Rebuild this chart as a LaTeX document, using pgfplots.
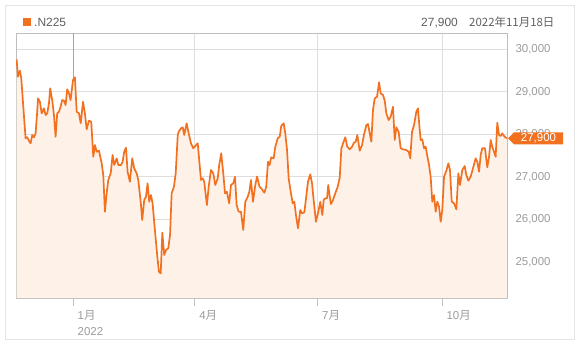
\documentclass[border=0pt]{standalone}
\usepackage{pgfplots}
\pgfplotsset{compat=1.18}
\usepackage{pgfplotstable}
\usepackage{fontspec}
\setmainfont{Liberation Sans}
\newfontfamily\cjk{Noto Sans CJK JP}
\definecolor{nk}{RGB}{242,113,33}
\definecolor{nkfill}{RGB}{253,241,232}
\definecolor{gridc}{RGB}{222,222,222}
\definecolor{lab}{RGB}{155,155,155}
\definecolor{frame}{RGB}{228,228,228}
\definecolor{hdr}{RGB}{95,95,95}

\pgfplotstableread{
d v
-41.8 29760
-40.9 29355
-39.4 29496
-38.4 29318
-36.9 28649
-35.2 27906
-34.0 27930
-32.7 27849
-31.5 27788
-30.3 27983
-29.0 27930
-27.8 28023
-26.6 28532
-26.0 28847
-24.6 28767
-23.3 28494
-21.6 28612
-20.4 28454
-19.2 28494
-17.9 28729
-17.0 29082
-15.5 28807
-14.2 28454
-13.0 27943
-11.8 28494
-10.5 28532
-9.3 28649
-8.1 28807
-6.8 28791
-5.6 28689
-4.4 29059
-3.1 28965
-1.9 28807
-0.1 29278
1.3 29341
2.6 28532
4.3 28494
5.6 28259
7.3 28767
8.7 28494
10.0 28118
11.7 28320
13.4 28296
14.9 27473
16.1 27748
17.4 27590
19.1 27614
19.8 27513
21.1 27318
22.3 27042
23.5 26179
24.8 26612
26.0 26925
27.8 27082
29.2 27513
30.4 27278
32.2 27435
33.4 27278
35.4 27278
36.6 27355
37.8 27590
39.1 27685
40.3 27120
42.0 26885
43.7 27435
45.2 27200
47.0 27082
48.2 26925
50.0 26414
51.1 25983
52.6 26454
53.9 26532
55.1 26847
56.3 26414
57.6 26572
58.8 26376
60.5 25748
62.3 25120
63.5 24767
64.8 24729
66.0 25685
67.4 25160
68.7 25278
70.4 25318
71.7 25630
72.9 26612
74.6 26767
75.9 27082
77.4 27983
78.1 28061
79.8 28141
81.1 28165
82.2 27983
84.0 28259
85.5 28023
87.2 27788
88.9 27671
90.4 27725
92.2 27788
93.3 27395
94.6 26925
95.9 26965
97.0 26885
99.0 26336
100.3 26767
102.0 27160
103.7 27082
105.2 26807
107.0 26965
108.1 27278
109.6 27553
111.1 27082
112.4 26612
113.8 26649
115.5 26376
116.8 26807
118.5 26847
119.8 27002
121.0 26336
122.5 26179
124.2 26179
125.9 25748
127.4 26414
129.2 26532
130.4 26649
131.6 26925
133.1 26414
134.8 26807
136.1 27007
137.9 26772
139.8 26706
141.5 26626
142.9 26767
144.2 27355
145.4 27278
146.6 27459
148.4 27435
149.6 27708
151.4 27906
152.9 27943
154.0 28195
155.8 28259
157.0 28023
158.3 27630
159.5 26965
161.2 26612
162.5 26376
163.7 26414
164.9 26101
166.4 25788
168.1 26219
169.4 26141
171.1 26165
172.5 26532
173.8 26885
175.5 27059
176.8 26847
178.0 26454
179.7 25943
181.2 26141
182.9 26414
184.4 26101
185.4 26454
186.6 26494
187.9 26494
188.8 26807
189.9 26532
190.8 26360
192.3 26454
194.0 26612
195.8 26767
197.3 26983
198.5 27671
200.2 27826
201.4 27930
202.9 27708
204.7 27647
206.4 27708
207.8 27802
209.1 27826
210.3 27983
212.1 27614
213.8 27748
215.2 27983
217.0 28219
218.2 28242
219.5 28023
220.7 27826
221.9 28572
223.2 28847
224.9 28885
226.4 29224
227.6 28965
229.3 28925
230.6 28791
231.8 28494
233.5 28336
235.0 28414
236.7 28649
238.0 27866
239.2 28165
240.9 28061
242.4 27671
244.1 27647
246.6 27630
248.3 27590
249.5 27435
250.8 28061
252.3 28219
254.0 28532
255.2 28612
256.5 28101
257.2 27866
258.4 27882
259.7 27671
260.9 27708
262.1 27489
263.4 27278
264.6 27002
265.8 26414
267.1 26572
268.3 26179
269.5 26414
270.8 26296
272.0 25943
273.2 26219
274.5 27002
276.2 27143
277.7 27318
278.9 27160
280.2 26414
281.9 26376
283.6 26235
285.1 27082
286.3 26807
288.0 27160
289.8 27254
291.0 27042
292.5 26908
294.2 27002
295.9 27200
297.9 27435
299.1 27355
300.4 27120
301.6 27513
302.8 27671
304.8 27671
306.5 27223
307.8 27473
309.0 27866
310.2 27708
311.5 27590
312.7 27473
313.9 28273
315.2 27983
316.4 27960
317.6 28023
318.9 27960
321.0 27900
}\nkdata

\begin{document}
\begin{tikzpicture}[x=1bp,y=1bp]
\path (0,0) rectangle (580,345);
\draw[frame, line width=0.8bp] (5.5,5.5) rectangle (574.5,339.5);
\begin{axis}[
  at={(16bp,47bp)}, anchor=south west,
  scale only axis, width=491bp, height=265bp,
  xmin=-42.3, xmax=321.1, ymin=24148, ymax=30384,
  axis line style={color={rgb,255:red,190;green,190;blue,190}, line width=0.8bp},
  xtick={0,90,181,273},
  xticklabels={{1{\cjk 月}\\2022},{4{\cjk 月}},{7{\cjk 月}},{10{\cjk 月}}},
  xticklabel style={anchor=north west, align=left, xshift=1bp, yshift=-1bp, text=lab, font=\fontsize{11.5}{16}\selectfont},
  x tick style={color={rgb,255:red,190;green,190;blue,190}, line width=0.8bp},
  tick align=outside,
  major tick length=8bp,
  xtick pos=bottom,
  ytick={25000,26000,27000,28000,29000,30000},
  scaled y ticks=false,
  yticklabel pos=right,
  y tick style={draw=none},
  yticklabel style={anchor=west, xshift=-3bp, text=lab, font=\fontsize{11.5}{14}\selectfont,
    /pgf/number format/.cd, fixed, 1000 sep={,}, assume math mode=true},
  grid=major,
  grid style={gridc, line width=0.8bp},
  extra x ticks={0},
  extra x tick labels={},
  extra x tick style={grid style={color={rgb,255:red,165;green,165;blue,165}, line width=0.8bp}},
  clip=true,
]
\addplot[draw=none, fill=nkfill] table[x=d,y=v]{\nkdata} \closedcycle;
\addplot[nk, line width=1.7bp, line join=round] table[x=d,y=v]{\nkdata};
\end{axis}
% current value tag
\fill[nk] (508,206.7) -- (514,212.7) -- (563,212.7) -- (563,200.7) -- (514,200.7) -- cycle;
\node[text=white, font=\fontsize{11.5}{14}\selectfont, inner sep=0pt] at (538.5,206.5) {27,900};
% header
\fill[nk] (23,319) rectangle (30.5,326.5);
\node[anchor=base west, text=hdr, font=\fontsize{12}{14}\selectfont, inner sep=0pt] at (34,318.5) {.N225};
\node[anchor=base east, text=hdr, font=\fontsize{12}{14}\selectfont, inner sep=0pt] at (458,318.5) {27,900};
\node[anchor=base west, text=hdr, font=\cjk\fontsize{11.5}{14}\selectfont, inner sep=0pt] at (469,318.5) {2022年11月18日};
\end{tikzpicture}
\end{document}
